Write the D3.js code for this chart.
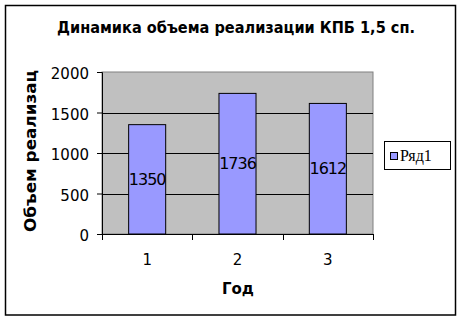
<!DOCTYPE html>
<html>
<head>
<meta charset="utf-8">
<script src="https://cdn.jsdelivr.net/npm/d3@7/dist/d3.min.js"></script>
<style>
  body { margin: 0; background: #fff; }
  svg text { fill: #000; }
</style>
</head>
<body>
<svg id="chart" width="460" height="319" font-family='"DejaVu Sans", Verdana, sans-serif'></svg>
<script>
// data
const years = ['1', '2', '3'];
const values = [1350, 1736, 1612];
const yTicks = [0, 500, 1000, 1500, 2000];
const seriesName = 'Ряд1';
const titleText = 'Динамика объема реализации КПБ 1,5 сп.';
const yTitle = 'Объем реализац';
const xTitle = 'Год';

const svg = d3.select('#chart');

// outer frame
svg.append('rect')
  .attr('x', 5.5).attr('y', 5.5)
  .attr('width', 450).attr('height', 309.5)
  .attr('fill', '#fff')
  .attr('stroke', '#000')
  .attr('stroke-width', 1.5);

// plot area
const plot = { left: 102, right: 373, top: 72, bottom: 234 };

const x = d3.scaleBand()
  .domain(years)
  .range([plot.left, plot.right])
  .paddingInner(0.59)
  .paddingOuter(0.295);

const y = d3.scaleLinear()
  .domain([0, 2000])
  .range([plot.bottom, plot.top]);

svg.append('rect')
  .attr('x', plot.left).attr('y', plot.top)
  .attr('width', plot.right - plot.left)
  .attr('height', plot.bottom - plot.top)
  .attr('fill', '#c0c0c0')
  .attr('stroke', '#808080')
  .attr('stroke-width', 1);

// gridlines
svg.append('g')
  .selectAll('line')
  .data(yTicks.filter(d => d > 0 && d < 2000))
  .join('line')
  .attr('x1', plot.left).attr('x2', plot.right)
  .attr('y1', d => Math.round(y(d)) + 0.5)
  .attr('y2', d => Math.round(y(d)) + 0.5)
  .attr('stroke', '#000');

// bars
svg.append('g')
  .selectAll('rect')
  .data(values)
  .join('rect')
  .attr('x', (d, i) => x(years[i]))
  .attr('y', d => y(d))
  .attr('width', x.bandwidth())
  .attr('height', d => plot.bottom - y(d))
  .attr('fill', '#9999ff')
  .attr('stroke', '#000')
  .attr('stroke-width', 1);

// value labels
svg.append('g')
  .selectAll('text')
  .data(values)
  .join('text')
  .attr('x', (d, i) => x(years[i]) + x.bandwidth() / 2)
  .attr('y', d => (y(d) + plot.bottom) / 2)
  .attr('dy', '0.36em')
  .attr('text-anchor', 'middle')
  .attr('font-size', 16)
  .attr('letter-spacing', -1)
  .text(d => d);

// y axis
const yAxis = svg.append('g')
  .attr('transform', `translate(${plot.left},0)`)
  .call(d3.axisLeft(y).tickValues(yTicks).tickFormat(d3.format('d')).tickSize(5).tickPadding(8));
yAxis.attr('font-family', null);
yAxis.select('.domain').attr('stroke', '#000');
yAxis.selectAll('text')
  .attr('font-size', 15)
  .attr('dy', '0.45em');

// x axis (ticks on band edges)
const xAxisG = svg.append('g')
  .attr('transform', `translate(0,${plot.bottom})`);
xAxisG.append('line')
  .attr('x1', plot.left).attr('x2', plot.right)
  .attr('y1', 0.5).attr('y2', 0.5)
  .attr('stroke', '#000');
const edges = years.map(d => x(d) - x.step() * x.paddingInner() / 2).concat([plot.right]);
xAxisG.selectAll('.tk')
  .data(edges)
  .join('line')
  .attr('class', 'tk')
  .attr('x1', d => Math.round(d) + 0.5).attr('x2', d => Math.round(d) + 0.5)
  .attr('y1', 0).attr('y2', 6)
  .attr('stroke', '#000');
xAxisG.selectAll('.lbl')
  .data(years)
  .join('text')
  .attr('class', 'lbl')
  .attr('x', d => x(d) + x.bandwidth() / 2)
  .attr('y', 31)
  .attr('text-anchor', 'middle')
  .attr('font-size', 15)
  .text(d => d);

// titles
svg.append('text')
  .attr('x', 236).attr('y', 33)
  .attr('text-anchor', 'middle')
  .attr('font-size', 15)
  .attr('font-weight', 'bold')
  .attr('textLength', 358)
  .attr('lengthAdjust', 'spacingAndGlyphs')
  .text(titleText);

svg.append('text')
  .attr('transform', 'translate(36,151) rotate(-90)')
  .attr('text-anchor', 'middle')
  .attr('font-size', 15)
  .attr('font-weight', 'bold')
  .attr('textLength', 162)
  .attr('lengthAdjust', 'spacingAndGlyphs')
  .text(yTitle);

svg.append('text')
  .attr('x', 238).attr('y', 294)
  .attr('text-anchor', 'middle')
  .attr('font-size', 15)
  .attr('font-weight', 'bold')
  .text(xTitle);

// legend
const lg = svg.append('g');
lg.append('rect')
  .attr('x', 384.5).attr('y', 141.5)
  .attr('width', 66).attr('height', 28)
  .attr('fill', '#fff')
  .attr('stroke', '#000');
lg.append('rect')
  .attr('x', 390.5).attr('y', 152.5)
  .attr('width', 7).attr('height', 7)
  .attr('fill', '#9999ff')
  .attr('stroke', '#000');
lg.append('text')
  .attr('x', 400).attr('y', 161)
  .attr('font-family', '"Liberation Serif", "Times New Roman", serif')
  .attr('font-size', 16)
  .text(seriesName);
</script>
</body>
</html>
